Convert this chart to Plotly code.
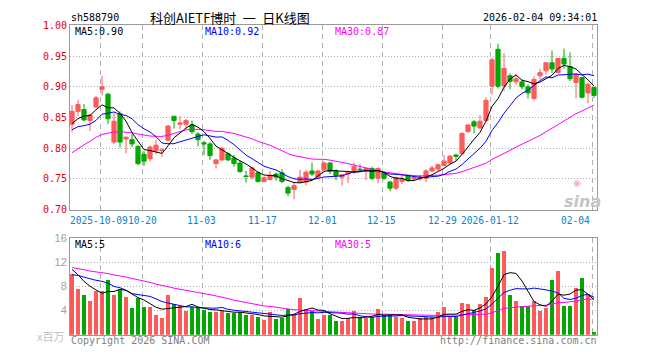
import plotly.graph_objects as go
import pandas as pd

W, H = 660, 360

# ---------------- data ----------------
opens = [0.839, 0.860, 0.863, 0.845, 0.867, 0.896, 0.888, 0.810, 0.856, 0.815,
         0.814, 0.803, 0.790, 0.783, 0.796, 0.796, 0.813, 0.852, 0.839, 0.839,
         0.838, 0.823, 0.809, 0.807, 0.775, 0.781, 0.791, 0.784, 0.776, 0.755,
         0.753, 0.760, 0.746, 0.749, 0.758, 0.760, 0.736, 0.733, 0.745, 0.745,
         0.763, 0.753, 0.765, 0.776, 0.763, 0.753, 0.758, 0.762, 0.766, 0.762,
         0.767, 0.751, 0.760, 0.745, 0.735, 0.746, 0.756, 0.750, 0.750, 0.751,
         0.763, 0.766, 0.772, 0.776, 0.789, 0.791, 0.827, 0.843, 0.833, 0.845,
         0.901, 0.961, 0.902, 0.918, 0.908, 0.908, 0.900, 0.881, 0.918, 0.926,
         0.939, 0.923, 0.946, 0.933, 0.907, 0.915, 0.890, 0.899]
highs = [0.870, 0.879, 0.872, 0.856, 0.885, 0.918, 0.890, 0.857, 0.860, 0.819,
         0.823, 0.805, 0.795, 0.804, 0.814, 0.800, 0.838, 0.852, 0.852, 0.848,
         0.845, 0.826, 0.812, 0.810, 0.783, 0.802, 0.793, 0.789, 0.779, 0.763,
         0.770, 0.763, 0.754, 0.763, 0.760, 0.766, 0.739, 0.745, 0.765, 0.765,
         0.777, 0.765, 0.779, 0.777, 0.766, 0.758, 0.762, 0.777, 0.774, 0.769,
         0.770, 0.769, 0.762, 0.747, 0.754, 0.758, 0.756, 0.754, 0.756, 0.766,
         0.772, 0.775, 0.789, 0.789, 0.791, 0.826, 0.839, 0.846, 0.854, 0.883,
         0.948, 0.970, 0.955, 0.922, 0.920, 0.912, 0.904, 0.917, 0.929, 0.940,
         0.959, 0.947, 0.962, 0.956, 0.922, 0.916, 0.907, 0.900]
lows = [0.826, 0.852, 0.844, 0.828, 0.865, 0.886, 0.839, 0.807, 0.801, 0.792,
        0.802, 0.772, 0.771, 0.778, 0.790, 0.786, 0.812, 0.832, 0.831, 0.833,
        0.823, 0.803, 0.789, 0.781, 0.767, 0.779, 0.779, 0.770, 0.760, 0.744,
        0.749, 0.744, 0.745, 0.747, 0.747, 0.743, 0.722, 0.717, 0.743, 0.739,
        0.755, 0.751, 0.761, 0.758, 0.748, 0.739, 0.743, 0.758, 0.762, 0.748,
        0.748, 0.743, 0.748, 0.730, 0.732, 0.742, 0.745, 0.747, 0.747, 0.745,
        0.761, 0.763, 0.771, 0.775, 0.779, 0.789, 0.825, 0.824, 0.832, 0.844,
        0.887, 0.897, 0.893, 0.896, 0.903, 0.896, 0.881, 0.878, 0.912, 0.920,
        0.922, 0.922, 0.929, 0.909, 0.881, 0.881, 0.873, 0.882]
closes = [0.860, 0.871, 0.846, 0.854, 0.882, 0.900, 0.848, 0.844, 0.810, 0.818,
          0.807, 0.775, 0.779, 0.802, 0.805, 0.797, 0.836, 0.845, 0.841, 0.845,
          0.827, 0.814, 0.807, 0.788, 0.781, 0.800, 0.781, 0.775, 0.762, 0.754,
          0.768, 0.746, 0.752, 0.756, 0.753, 0.746, 0.727, 0.739, 0.753, 0.761,
          0.758, 0.763, 0.776, 0.762, 0.755, 0.757, 0.761, 0.770, 0.765, 0.767,
          0.751, 0.767, 0.751, 0.735, 0.752, 0.750, 0.748, 0.752, 0.753, 0.763,
          0.768, 0.773, 0.779, 0.787, 0.787, 0.824, 0.838, 0.836, 0.844, 0.878,
          0.944, 0.901, 0.930, 0.909, 0.913, 0.900, 0.890, 0.912, 0.923, 0.939,
          0.929, 0.946, 0.937, 0.913, 0.920, 0.883, 0.904, 0.886]
volumes = [10.0, 7.6, 6.6, 5.6, 7.2, 7.3, 9.0, 6.6, 7.5, 6.2,
           4.4, 6.0, 4.6, 4.5, 3.2, 2.8, 6.6, 5.1, 4.8, 4.0,
           4.6, 4.4, 4.1, 3.7, 3.7, 4.0, 3.6, 3.6, 3.7, 3.2,
           3.2, 3.0, 2.4, 3.7, 2.6, 2.8, 4.3, 3.5, 6.0, 4.3,
           4.0, 2.6, 3.2, 3.2, 2.2, 2.2, 2.7, 3.9, 2.9, 2.8,
           2.9, 4.3, 3.2, 3.2, 2.9, 2.8, 2.3, 2.3, 2.7, 2.9,
           2.9, 3.7, 4.6, 2.9, 2.9, 5.2, 5.0, 4.1, 5.0, 6.2,
           11.1, 13.6, 13.8, 6.6, 5.6, 4.8, 4.8, 5.6, 3.9, 4.4,
           9.0, 10.6, 4.8, 4.8, 7.7, 9.3, 6.8, 0.4]
# estimated history before the visible window (needed for the moving averages)
prior_closes = [0.66, 0.67, 0.68, 0.69, 0.76, 0.78, 0.79, 0.80, 0.83, 0.84,
                0.845, 0.84, 0.835, 0.82, 0.80, 0.78, 0.76, 0.75, 0.76, 0.79,
                0.82, 0.83, 0.83, 0.82, 0.80, 0.83, 0.825, 0.85, 0.835]
prior_volumes = [11.5, 13.0, 12.5, 11.0, 12.8, 12.0, 13.5, 11.8, 12.4, 11.5,
                 12.0, 10.5, 11.8, 12.2, 10.8, 11.0, 12.5, 10.9, 9.8, 10.5,
                 8.5, 9.5, 8.8, 9.2, 9.0, 12.0, 12.1, 9.6, 10.3]
tick_idx = [5, 12, 22, 32, 42, 52, 62, 70, 87]
tick_labels = ["2025-10-09", "10-20", "11-03", "11-17", "12-01", "12-15",
               "12-29", "2026-01-12", "02-04"]
price_ticks = [0.70, 0.75, 0.80, 0.85, 0.90, 0.95, 1.00]
vol_ticks = [4, 8, 12, 16]

code = "sh588790"
title = "科创AIETF博时\u2002一\u2002日K线图"
stamp = "2026-02-04 09:34:01"

# ---------------- styles ----------------
UP = "#ff5a5a"
DOWN = "#00a800"
C5, C10, C30 = "#000000", "#0000ff", "#ff00ff"
GRID = "#b0b0b0"
BORDER = "#999999"
MONO = "DejaVu Sans Mono"

n = len(closes)
xs = list(range(n))


def ma(prior, vals, k):
    s = pd.Series(list(prior) + list(vals)).rolling(k).mean()
    return s.iloc[len(prior):].tolist()


ma5, ma10, ma30 = (ma(prior_closes, closes, k) for k in (5, 10, 30))
vma5, vma10, vma30 = (ma(prior_volumes, volumes, k) for k in (5, 10, 30))
vcol = [UP if c >= o else DOWN for o, c in zip(opens, closes)]

# pixel geometry
PL, PR = 70, 597.3
PT, PB = 20, 210.7
VT, VB = 240, 340
STEP = 6.0
X0 = 72  # pixel of first candle centre
xr0 = (PL - X0) / STEP
xr1 = xr0 + (PR - PL) / STEP

fig = go.Figure()
fig.add_trace(go.Candlestick(
    x=xs, open=opens, high=highs, low=lows, close=closes,
    increasing=dict(line=dict(color=UP, width=1), fillcolor=UP),
    decreasing=dict(line=dict(color=DOWN, width=1), fillcolor=DOWN),
    whiskerwidth=0, showlegend=False, hoverinfo="skip", xaxis="x", yaxis="y"))
for arr, col in ((ma30, C30), (ma10, C10), (ma5, C5)):
    fig.add_trace(go.Scatter(x=xs, y=arr, mode="lines", line=dict(color=col, width=1),
                             showlegend=False, hoverinfo="skip", xaxis="x", yaxis="y"))
fig.add_trace(go.Bar(x=xs, y=volumes, marker=dict(color=vcol, line=dict(width=0)),
                     width=0.83, showlegend=False, hoverinfo="skip", xaxis="x2", yaxis="y2"))
for arr, col in ((vma30, C30), (vma10, C10), (vma5, C5)):
    fig.add_trace(go.Scatter(x=xs, y=arr, mode="lines", line=dict(color=col, width=1),
                             showlegend=False, hoverinfo="skip", xaxis="x2", yaxis="y2"))

grid_x = [i - 2 / STEP for i in tick_idx]
xcommon = dict(range=[xr0, xr1], domain=[PL / W, PR / W], tickvals=grid_x,
               showticklabels=False, ticks="", showgrid=True, gridcolor=GRID,
               griddash="5px,4px", gridwidth=1, showline=True, mirror=True,
               linecolor=BORDER, linewidth=1, zeroline=False, fixedrange=True)

fig.update_layout(
    width=W, height=H, margin=dict(l=0, r=0, t=0, b=0, pad=0), autosize=False,
    paper_bgcolor="white", plot_bgcolor="white", showlegend=False,
    boxgap=0.3, boxgroupgap=0, boxmode="overlay", bargap=0,
    xaxis=dict(**xcommon, anchor="y", rangeslider=dict(visible=False)),
    xaxis2=dict(**xcommon, anchor="y2"),
    yaxis=dict(domain=[1 - PB / H, 1 - PT / H], range=[price_ticks[0], price_ticks[-1]],
               tickvals=price_ticks, ticktext=[f"{v:.2f}" for v in price_ticks],
               tickfont=dict(family=MONO, size=10, color="#e60000"), ticks="",
               showgrid=True, gridcolor=GRID, griddash="1px,2px", gridwidth=1,
               showline=True, mirror=True, linecolor=BORDER, linewidth=1,
               zeroline=False, anchor="x", fixedrange=True),
    yaxis2=dict(domain=[1 - VB / H, 1 - VT / H], range=[0, vol_ticks[-1]],
                tickvals=vol_ticks, ticktext=[str(v) for v in vol_ticks],
                tickfont=dict(family="Liberation Sans", size=11, color="#a0a0a0"), ticks="",
                showgrid=True, gridcolor=GRID, griddash="1px,2px", gridwidth=1,
                showline=True, mirror=True, linecolor=BORDER, linewidth=1,
                zeroline=False, anchor="x2", fixedrange=True),
)


def ann(text, x, y, xanchor="left", color="black", size=10, family=MONO):
    return dict(text=text, x=x / W, y=1 - y / H, xref="paper", yref="paper",
                xanchor=xanchor, yanchor="middle", showarrow=False,
                font=dict(family=family, size=size, color=color))


anns = [
    ann(code, 69, 12),
    ann(title, 230, 11.5, "center", size=13, family="Noto Sans CJK SC"),
    ann(stamp, 599, 12, "right"),
    ann(f"MA5:{ma5[-1]:.2f}", 73, 26, color=C5),
    ann(f"MA10:{ma10[-1]:.2f}", 203, 26, color=C10),
    ann(f"MA30:{ma30[-1]:.2f}", 333, 26, color=C30),
    ann(f"MA5:{int(vma5[-1])}", 73, 247, color=C5),
    ann(f"MA10:{int(vma10[-1])}", 203, 247, color=C10),
    ann(f"MA30:{int(vma30[-1])}", 333, 247, color=C30),
    ann("x百万", 66, 341, "right", color="#c0c0c0", size=11, family="Noto Sans CJK SC"),
    ann("Copyright 2026 SINA.COM", 69, 346, color="#808080"),
    ann("http://finance.sina.com.cn", 599, 346, "right", color="#808080"),
    ann("◉", 577, 183, "center", color="#f2b4b4", size=9, family="DejaVu Sans"),
    ann("<b><i>sina</i></b>", 582, 202, "center", color="#c4c4c4", size=16,
        family="DejaVu Sans"),
]
DSZ = 9.6
for idx, lab in zip(tick_idx, tick_labels):
    gx = X0 + STEP * idx - 2
    half = len(lab) * DSZ * 0.602 / 2
    if gx + half > PR:
        anc = "right"
    elif gx - half < PL + 4:
        anc = "left"
        gx = PL - 2
    else:
        anc = "center"
    anns.append(ann(lab, gx, 222, anc, color="#0a84d0", size=DSZ))
fig.update_layout(annotations=anns)

fig.write_html(
    "out.html",
    config={"displayModeBar": False, "responsive": False, "staticPlot": True},
    post_script=(
        "document.documentElement.style.margin='0';"
        "document.documentElement.style.padding='0';"
        "document.documentElement.style.overflow='hidden';"
        "document.body.style.margin='0';document.body.style.padding='0';"
        "document.body.style.overflow='hidden';"
    ),
)
